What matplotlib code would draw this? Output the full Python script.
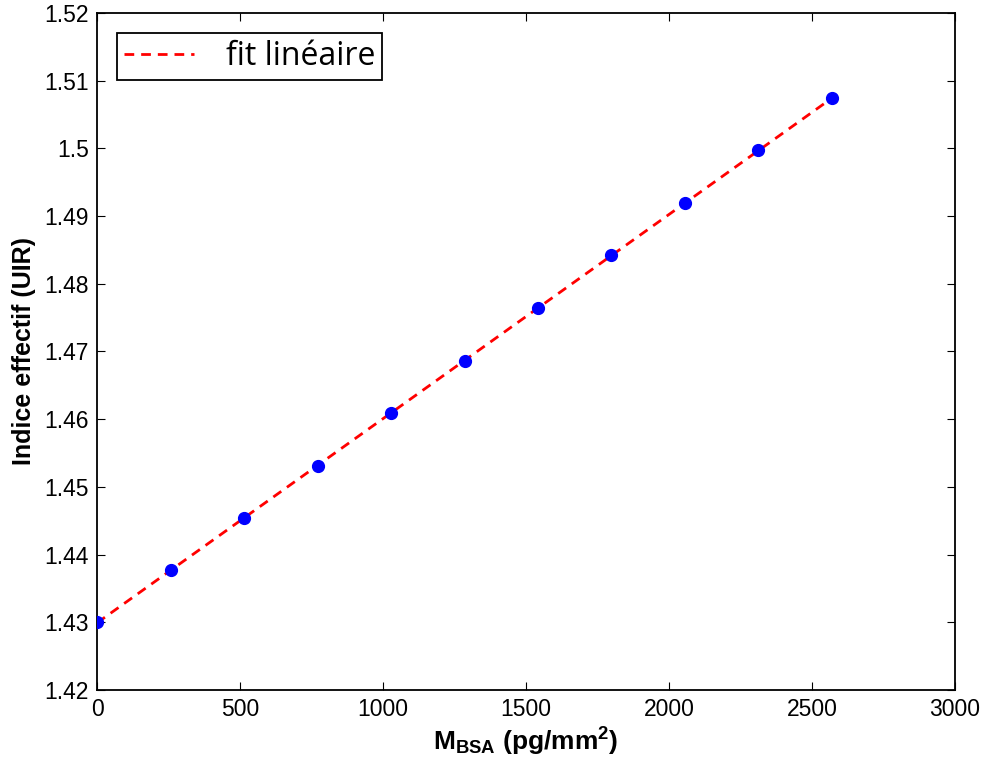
import matplotlib
matplotlib.use("Agg")
import matplotlib.pyplot as plt
import numpy as np

mass = [0, 257, 514, 771, 1028, 1285, 1542, 1799, 2056, 2313, 2570]
index = [1.4300, 1.4377, 1.4454, 1.4531, 1.4609, 1.4686, 1.4764, 1.4842, 1.4919, 1.4997, 1.5075]
xticks = [0, 500, 1000, 1500, 2000, 2500, 3000]
yticks = [1.42, 1.43, 1.44, 1.45, 1.46, 1.47, 1.48, 1.49, 1.50, 1.51, 1.52]
ytick_labels = ["1.42", "1.43", "1.44", "1.45", "1.46", "1.47", "1.48", "1.49", "1.5", "1.51", "1.52"]

plt.rcParams['font.family'] = ['Liberation Sans', 'DejaVu Sans']
plt.rcParams['mathtext.fontset'] = 'custom'
plt.rcParams['mathtext.rm'] = 'Liberation Sans'
plt.rcParams['mathtext.bf'] = 'Liberation Sans:bold'
plt.rcParams['mathtext.default'] = 'bf'

x = np.array(mass)
y = np.array(index)
p = np.polyfit(x, y, 1)
xf = np.array([x.min(), x.max()])

fig = plt.figure(figsize=(9.85, 7.72), dpi=100)
ax = fig.add_axes([0.0985, 0.1062, 0.871, 0.877])
line, = ax.plot(xf, np.polyval(p, xf), '--', color='#ff0000', lw=2.0, dashes=(3.5, 2.5), zorder=2,
                label='fit linéaire')
ax.plot(x, y, 'o', color='#0000ff', ms=8.5, zorder=3)
ax.set_xlim(0, 3000)
ax.set_ylim(1.42, 1.52)
ax.set_xticks(xticks)
ax.set_yticks(yticks)
ax.set_yticklabels(ytick_labels)
ax.tick_params(direction='in', top=True, right=True, length=6, width=0.8, labelsize=16.5, pad=6)
for s in ax.spines.values():
    s.set_linewidth(1.3)
ax.set_xlabel(r'M$_{BSA}$ (pg/mm$^{2}$)', fontsize=19, fontweight='bold', labelpad=3)
ax.set_ylabel('Indice effectif (UIR)', fontsize=18, fontweight='bold', labelpad=6)
leg = ax.legend(handles=[line], loc='upper left', prop={'family': 'Open Sans', 'size': 23},
                fancybox=False, edgecolor='black', framealpha=1, borderaxespad=0.62, handlelength=2.2,
                borderpad=0.22, handletextpad=1.0)
leg.get_frame().set_linewidth(1.3)
fig.savefig('out.png', dpi=100)
